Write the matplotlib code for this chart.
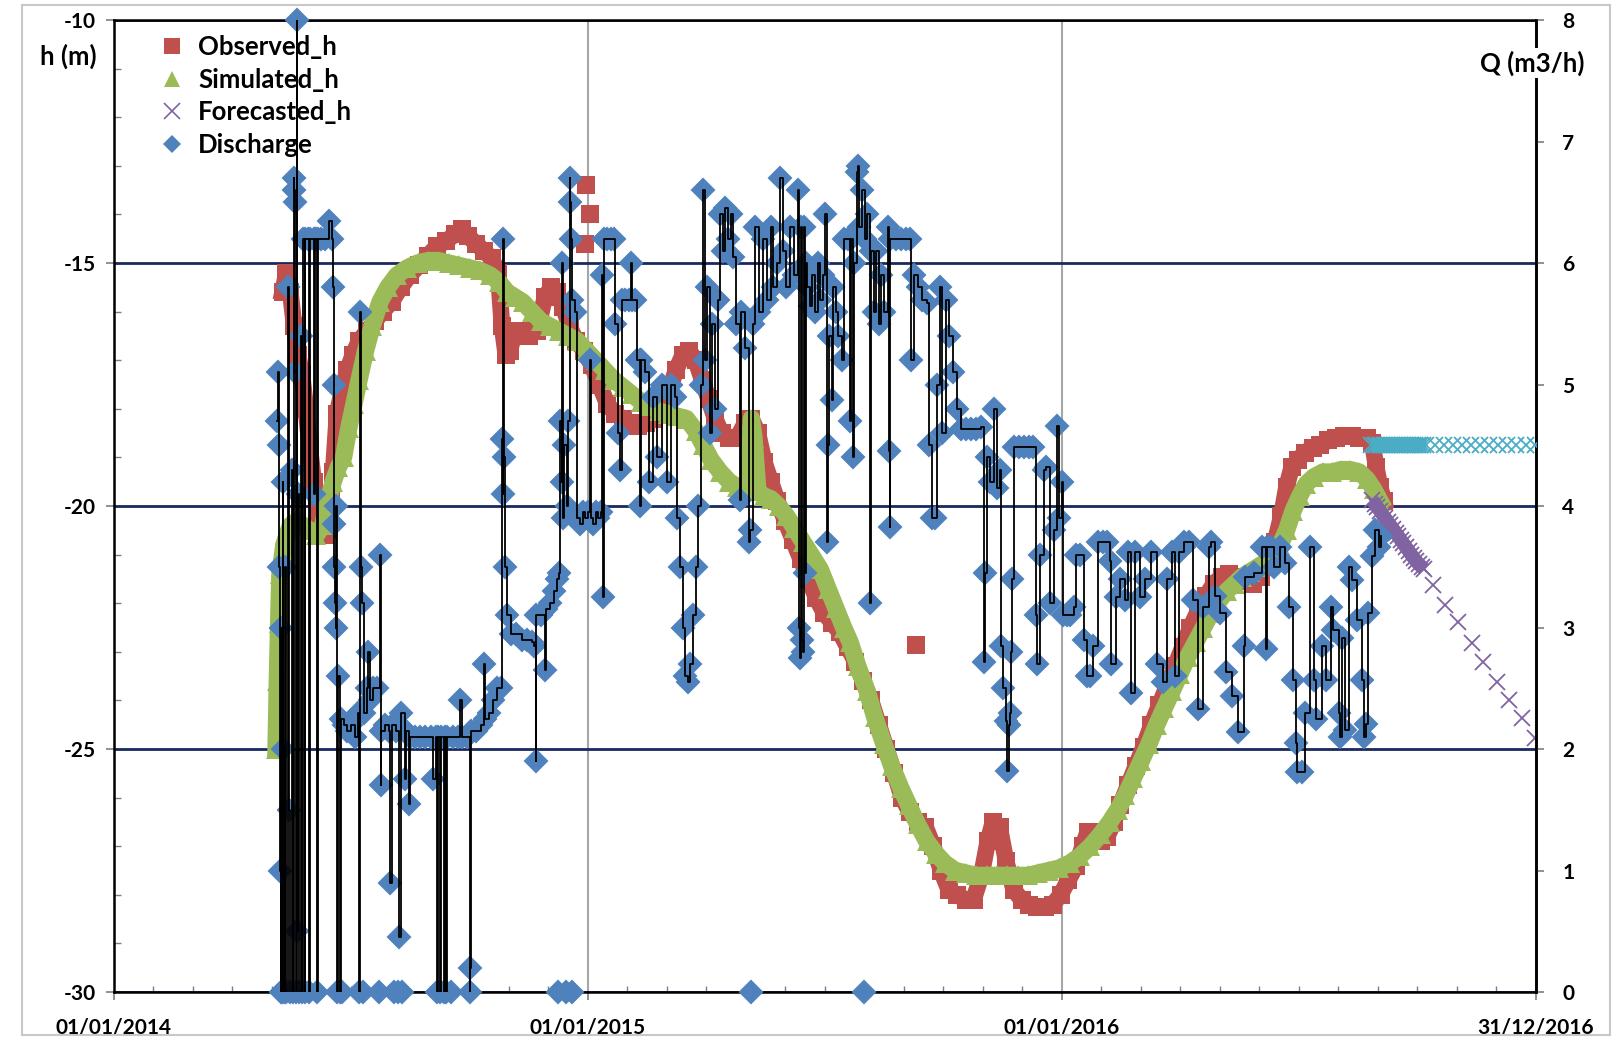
import numpy as np
import pandas as pd
import matplotlib
matplotlib.use("Agg")
import matplotlib.pyplot as plt
import matplotlib.dates as mdates
from matplotlib.lines import Line2D
from matplotlib.patches import Rectangle
from matplotlib.ticker import MultipleLocator, FixedLocator, NullLocator

plt.rcParams["font.family"] = ["Lato", "DejaVu Sans"]
plt.rcParams["font.weight"] = "bold"
plt.rcParams["axes.unicode_minus"] = False

nan = np.nan
START = pd.Timestamp("2014-01-01")
END = pd.Timestamp("2016-12-31")

# observed head (m), day offsets from 01/01/2014
obs_days = [130, 133, 136, 139, 142, 145, 148, 151, 154, 157,
            160, 163, 166, 169, 172, 176, 180, 184, 189, 195,
            201, 207, 214, 221, 228, 235, 242, 249, 256, 263,
            268, 273, 279, 285, 291, 296, 299, 302, 305, 309,
            314, 320, 326, 332, 337, 341, 346, 351, 356, 362,
            368, 374, 380, 386, 392, 398, 404, 410, 416, 422,
            428, 433, 438, 443, 448, 453, 458, 463, 468, 474,
            480, 486, 491, 496, 501, 506, 511, 517, 523, 529,
            535, 541, 547, 553, 559, 565, 571, 577, 583, 589,
            595, 601, 607, 613, 619, 625, 631, 637, 643, 649,
            656, 662, 668, 673, 677, 682, 687, 693, 699, 705,
            711, 717, 723, 729, 735, 741, 746, 750, 755, 760,
            765, 770, 775, 781, 787, 793, 799, 805, 811, 817,
            823, 829, 835, 841, 847, 853, 859, 865, 871, 877,
            883, 889, 894, 899, 903, 907, 912, 917, 923, 929,
            935, 941, 947, 953, 959, 965, 969, 972, 975, 978]
obs_h = [-15.6, -15.2, -15.6, -16.3, -16.9, -17.3, -18.0, -18.8, -19.5, -20.1,
         -20.5, -20.6, -20.5, -19.3, -18.1, -17.6, -17.2, -16.9, -16.6, -16.4,
         -16.2, -16.0, -15.8, -15.5, -15.25, -15.05, -14.85, -14.65, -14.55, -14.4,
         -14.3, -14.45, -14.6, -14.75, -14.9, -15.2, -16.3, -16.9, -16.8, -16.4,
         -16.4, -16.5, -16.4, -15.7, -15.5, -15.6, -15.9, -16.3, -16.6, -16.8,
         -17.1, -17.5, -17.9, -18.1, -18.2, -18.3, -18.35, -18.3, -18.2, -18.0,
         -17.6, -17.2, -16.9, -16.8, -17.0, -17.4, -17.8, -18.2, -18.5, -18.6,
         -18.6, -18.3, -18.2, -18.5, -19.1, -19.5, -19.9, -20.3, -20.7, -21.1,
         -21.5, -21.9, -22.2, -22.4, -22.6, -22.9, -23.2, -23.6, -24.0, -24.5,
         -25.0, -25.5, -26.0, -26.3, -26.5, -26.6, -27.0, -27.5, -27.9, -28.0,
         -28.1, -28.1, -27.6, -26.9, -26.5, -26.6, -27.3, -27.9, -28.1, -28.2,
         -28.25, -28.25, -28.2, -28.0, -27.7, -27.4, -27.0, -26.7, -26.7, -26.9,
         -26.8, -26.5, -26.15, -25.75, -25.35, -24.95, -24.5, -24.1, -23.7, -23.3,
         -22.9, -22.5, -22.15, -21.85, -21.6, -21.45, -21.4, -21.45, -21.55, -21.6,
         -21.45, -21.15, -20.75, -20.2, -19.6, -19.2, -19.05, -18.9, -18.8, -18.75,
         -18.65, -18.6, -18.55, -18.55, -18.6, -18.6, -18.7, -19.2, -19.6, -19.9]
# isolated observed squares
obs_extra_days = [363, 364, 367, 618]
obs_extra_h = [-14.6, -13.4, -14.0, -22.85]

# simulated head (m)
sim_days = [125, 126, 127, 128, 131, 136, 141, 146, 151, 156,
            161, 165, 169, 173, 177, 181, 185, 189, 194, 199,
            205, 211, 218, 226, 234, 242, 250, 258, 266, 274,
            282, 290, 297, 303, 309, 315, 322, 329, 336, 343,
            350, 357, 364, 371, 378, 385, 392, 399, 406, 413,
            420, 427, 434, 441, 448, 454, 460, 467, 474, 480,
            485, 489, 491, 493, 496, 501, 506, 512, 518, 524,
            531, 537, 544, 550, 556, 562, 567, 573, 580, 586,
            593, 599, 606, 612, 619, 626, 633, 640, 648, 656,
            664, 672, 680, 688, 696, 704, 712, 720, 728, 736,
            744, 752, 760, 767, 773, 779, 785, 791, 797, 803,
            809, 815, 821, 827, 833, 839, 845, 851, 857, 863,
            869, 875, 881, 887, 893, 898, 903, 908, 913, 918,
            924, 931, 938, 945, 952, 959, 965, 970, 975]
sim_h = [-25.0, -23.6, -22.4, -21.4, -20.8, -20.4, -20.3, -20.4, -20.5, -20.6,
         -20.4, -19.9, -19.5, -19.2, -19.0, -18.4, -17.9, -17.4, -16.8, -16.3,
         -15.8, -15.5, -15.25, -15.1, -15.0, -14.95, -14.95, -15.0, -15.05, -15.1,
         -15.15, -15.25, -15.4, -15.6, -15.7, -15.8, -16.0, -16.2, -16.3, -16.4,
         -16.5, -16.6, -16.8, -17.0, -17.2, -17.4, -17.55, -17.7, -17.85, -17.95,
         -18.05, -18.1, -18.15, -18.2, -18.45, -18.75, -19.05, -19.3, -19.5, -19.6,
         -19.65, -19.5, -18.2, -18.6, -19.7, -19.8, -19.85, -20.0, -20.2, -20.45,
         -20.75, -21.0, -21.3, -21.7, -22.1, -22.5, -22.8, -23.3, -23.8, -24.35,
         -24.9, -25.35, -25.8, -26.15, -26.55, -26.9, -27.15, -27.35, -27.5, -27.55,
         -27.6, -27.6, -27.6, -27.6, -27.6, -27.6, -27.55, -27.5, -27.45, -27.35,
         -27.2, -27.0, -26.75, -26.5, -26.25, -25.95, -25.6, -25.25, -24.9, -24.5,
         -24.15, -23.8, -23.45, -23.1, -22.8, -22.5, -22.2, -21.95, -21.75, -21.6,
         -21.45, -21.35, -21.25, -21.15, -21.0, -20.8, -20.5, -20.1, -19.8, -19.55,
         -19.4, -19.3, -19.3, -19.25, -19.25, -19.3, -19.45, -19.65, -19.9]

# forecasted head (m): daily run first, then sparse points
fc_days = [969, 971, 973, 975, 977, 979, 981, 983, 985, 987,
           989, 991, 993, 995, 997, 999, 1001, 1003, 1005, 1007,
           1009, 1016, 1025, 1035, 1046, 1054, 1065, 1074, 1084, 1094]
fc_h = [-19.88, -19.95, -20.03, -20.1, -20.18, -20.25, -20.33, -20.4, -20.47, -20.55,
        -20.62, -20.7, -20.77, -20.85, -20.92, -21.0, -21.07, -21.14, -21.2, -21.25,
        -21.3, -21.63, -22.04, -22.39, -22.82, -23.21, -23.62, -23.99, -24.36, -24.77]

# forecasted discharge (m3/h), not in legend
fq_days = [968, 970, 972, 974, 976, 978, 980, 982, 984, 986,
           988, 990, 992, 994, 996, 998, 1000, 1002, 1004, 1006,
           1008, 1010, 1017, 1024, 1031, 1038, 1045, 1052, 1059, 1066,
           1073, 1080, 1087, 1094]
fq_q = [4.5] * len(fq_days)

# discharge (m3/h); nan = missing reading (Excel draws the marker at 0)
dis_days = [126, 126.5, 127, 127.5, 128, 128.5, 129, 129.5, 130, 130.5,
            131, 132, 133, 134, 135, 136, 137, 138, 138.5, 139,
            139.5, 140, 140.5, 141, 141.5, 142, 143, 144, 145, 146,
            147, 147.5, 150, 150.5, 151, 154, 154.5, 155, 156, 156.5,
            157, 160, 163, 166, 168, 169, 169.3, 169.6, 170, 170.5,
            171, 171.5, 172, 173, 174, 175, 176, 177,
            180, 183, 186, 188, 189, 190, 190.5, 191, 192, 193,
            195, 196, 197, 200, 203, 204, 205, 205.5, 206, 209,
            212, 213, 214, 216, 217, 219, 220, 221, 222, 224,
            225, 227, 228, 232, 236, 240, 244, 246, 248, 249,
            250, 251, 252, 254, 255, 256, 257, 260, 261, 265,
            267, 268, 272, 274, 274.5, 275, 279, 283, 285, 286,
            289, 292, 295, 298, 299, 299.5, 300, 300.5, 301, 303,
            306, 310, 314, 318, 322, 324, 325, 325.5, 329, 332,
            333, 336, 339, 341, 342, 343, 344, 345, 345.5, 346,
            347, 348, 349, 350, 351, 351.5, 352, 352.5, 353, 355,
            357, 359, 361, 363, 365, 367, 367.5, 369, 371, 373,
            375, 376, 377, 377.5, 380, 383, 385, 386, 388, 390,
            391, 394, 397, 398, 399, 401, 403, 405, 405.5, 406,
            409, 412, 415, 418, 422, 426, 429, 432, 434, 436,
            438, 440, 442, 444, 446, 448, 450, 452, 454, 455,
            457, 459, 461, 463, 465, 467, 469, 471, 473, 475,
            477, 479, 482, 483, 486, 489, 490, 491, 492, 494,
            497, 500, 503, 506, 508, 511, 513, 515, 518, 521,
            524, 527, 528, 528.5, 529, 530, 531, 531.5, 532, 533,
            534, 536, 538, 540, 542, 544, 546, 548, 549, 550,
            551, 553, 554, 556, 558, 561, 562, 565, 567, 568,
            569, 570, 572, 573, 574, 576, 578, 578.5, 580, 582,
            583, 585, 587, 589, 591, 593, 596, 597, 597.5, 598,
            602, 606, 610, 613, 614, 616, 619, 622, 626, 628,
            630, 632, 634, 636, 638, 641, 643, 646, 649, 652,
            656, 660, 664, 668, 670, 671, 672, 675, 678, 680,
            682, 683, 685, 687, 688, 689, 690, 691, 692, 693,
            697, 701, 705, 708, 710, 711, 713, 716, 718, 721,
            724, 726, 728, 730, 731, 734, 736, 739, 741, 744,
            747, 749, 752, 754, 758, 762, 765, 767, 768, 772,
            775, 779, 781, 783, 786, 790, 794, 799, 803, 808,
            811, 815, 817, 820, 824, 828, 831, 835, 839, 843,
            845, 848, 852, 856, 861, 866, 870, 871, 878, 884,
            887, 888, 891, 893, 898, 902, 905, 908, 910, 911,
            915, 917, 921, 924, 926, 930, 933, 937, 939, 943,
            944, 946, 948, 951, 953, 957, 961, 963, 964, 966,
            969, 971, 974, 976]
dis_q = [4.7, 5.1, 4.5, 3.5, 1.0, 0.0, 3.0, 0.0, 4.2, 2.0,
         0.0, 3.5, 0.0, 5.8, 1.5, 0.0, 4.3, 0.0, 6.7, 6.6,
         6.5, 5.1, 0.0, 8.0, 0.5, 4.1, 0.0, 5.4, 0.0, 6.2,
         0.0, 6.2, 6.2, 0.0, 6.2, 6.2, 4.1, 6.2, 6.2, 0.0,
         6.2, 6.2, 6.2, 6.35, 6.2, 5.8, 5.0, 3.85, 3.5, 3.2,
         3.0, 4.0, 0.0, 2.6, 0.0, 2.25, nan, 2.2,
         2.15, 2.2, 2.1, 2.3, 0.0, 5.6, 3.5, 3.2, nan, 2.3,
         2.5, 2.8, 2.4, 2.5, 2.5, nan, 3.6, 1.7, 2.15, 2.2,
         2.15, 0.9, 2.2, nan, 2.15, nan, 0.45, 2.3, nan, 1.75,
         2.15, 1.55, 2.1, 2.1, 2.1, 2.1, 2.1, 1.75, 2.1, 0.0,
         2.1, 0.0, 2.1, 0.0, 2.1, 0.0, 2.1, nan, 2.1, 2.1,
         2.4, 2.1, 2.1, 0.0, 0.2, 2.15, 2.15, 2.2, 2.7, 2.25,
         2.3, 2.4, 2.5, 2.5, 4.55, 4.1, 6.2, 4.4, 3.5, 3.1,
         2.95, 2.95, 2.9, 2.9, 2.88, 2.85, 1.9, 3.1, 3.1, 2.65,
         3.15, 3.2, 3.3, 3.4, nan, 3.45, 4.7, 4.2, 6.0, 3.9,
         4.5, nan, 4.0, 4.7, 6.7, 6.5, 6.2, nan, 5.7, 5.6,
         3.9, 3.85, 3.95, 3.9, 3.95, 5.2, 3.9, 3.85, 3.95, 3.9,
         3.95, 5.9, 3.25, 6.2, 6.2, 6.2, 6.2, 5.5, 4.6, 4.3,
         5.7, 5.7, 5.7, 6.0, 5.7, 5.7, 5.2, 5.2, 4.0, 5.2,
         5.1, 4.2, 4.9, 4.4, 5.0, 4.2, 5.0, 4.9, 3.9, 3.5,
         3.0, 2.6, 2.55, 2.7, 3.1, 3.5, 4.0, 5.0, 6.6, 5.2,
         5.8, 4.6, 5.5, 4.8, 5.7, 6.4, 6.1, 6.45, 6.2, 6.4,
         6.05, 5.5, 4.05, 5.6, 5.3, 3.7, 3.8, nan, 5.5, 6.3,
         5.6, 6.2, 5.7, 6.3, 5.8, 6.0, 6.7, 6.1, 5.8, 6.3,
         5.9, 6.6, 3.0, 2.75, 6.3, 2.9, 2.8, 6.3, 3.45, 6.0,
         5.8, 5.65, 5.9, 5.6, 6.0, 5.7, 5.9, 6.4, 3.7, 4.5,
         5.4, 4.87, 5.8, 5.6, 5.4, 5.2, 6.2, 6.2, 4.7, 6.2,
         4.4, 6.0, 6.75, 6.8, 6.3, 6.6, nan, 6.2, 6.4, 3.2,
         6.1, 5.6, 6.1, 5.5, 5.9, 5.6, 6.3, 4.45, 3.83, 6.2,
         6.2, 6.2, 6.2, 6.2, 5.2, 5.9, 5.8, 5.7, 5.67, 4.5,
         3.9, 3.9, 5.0, 5.8, 4.6, 5.7, 5.4, 5.1, 4.8, 4.63,
         4.63, 4.63, 4.63, 4.65, 2.72, 3.45, 4.4, 4.2, 4.8, 4.15,
         4.3, 2.85, 2.5, 2.23, 1.82, 2.2, 2.3, 2.8, 3.4, 4.49,
         4.49, 4.49, 4.49, 4.49, 3.1, 2.7, 3.6, 4.3, 4.32, 3.2,
         3.8, 4.66, 3.9, 4.2, 3.1, 3.1, 3.1, 3.17, 3.6, 3.6,
         2.9, 2.6, 2.6, 2.85, 3.7, 3.7, 3.7, 3.55, 2.7, 3.25,
         3.4, 3.23, 3.62, 2.46, 3.62, 3.25, 3.4, 3.62, 2.7, 2.55,
         3.4, 3.62, 2.6, 3.62, 3.7, 3.7, 3.23, 2.33, 3.17, 3.66,
         3.7, 3.26, 3.12, 2.63, 2.44, 2.14, 2.85, 3.42, 3.45, 3.66,
         2.82, 3.66, 3.66, 3.5, 3.66, 3.53, 3.17, 2.57, 2.05, 1.81,
         1.81, 2.3, 3.66, 2.57, 2.25, 2.85, 2.57, 3.17, 2.98, 2.3,
         2.1, 2.91, 2.16, 3.5, 3.39, 3.06, 2.57, 2.1, 2.21, 3.12,
         3.59, 3.8, 3.66, 3.75]

RED = "#C0504D"
GREEN = "#9BBB59"
PURPLE = "#8064A2"
BLUE = "#4F81BD"
CYAN = "#4BACC6"
NAVY = "#18295E"
GREY = "#A6A6A6"


def to_dates(days):
    return START + pd.to_timedelta(np.asarray(days, dtype=float), unit="D")


fig = plt.figure(figsize=(16.19, 10.45), dpi=100)
ax = fig.add_axes([0.0702, 0.0507, 0.8785, 0.9301])
ax2 = ax.twinx()

# heads on the left axis
ax.plot(to_dates(obs_days), obs_h, color=RED, lw=12, marker="s", ms=13, mew=0, zorder=2)
ax.plot(to_dates(obs_extra_days), obs_extra_h, ls="none", color=RED, marker="s", ms=13, mew=0, zorder=2)
ax.plot(to_dates(sim_days), sim_h, color=GREEN, lw=12.5, marker="^", ms=14, mew=0, zorder=2.1)
fc_d = np.array(fc_days)
fc_v = np.array(fc_h)
dense = fc_d <= 1009
ax.plot(to_dates(fc_d[dense]), fc_v[dense], color=PURPLE, lw=10, solid_capstyle="butt", zorder=2.2)
ax.plot(to_dates(fc_d), fc_v, ls="none", color=PURPLE, marker="x", ms=12, mew=1.3, zorder=2.2)

# discharge on the right axis
q = np.array(dis_q, dtype=float)
dd = to_dates(dis_days)
ax2.plot(dd, np.nan_to_num(q, nan=0.0), ls="none", color=BLUE, marker="D", ms=11.5,
         mec=BLUE, mew=1.5, clip_on=False, zorder=3)
ok = ~np.isnan(q)
ax2.plot(dd[ok], q[ok], color="black", lw=1.3, drawstyle="steps-post", zorder=4)
fq_d = np.array(fq_days)
fq_v = np.array(fq_q)
solid = fq_d <= 1010
ax2.plot(to_dates(fq_d[solid]), fq_v[solid], color=CYAN, lw=11, solid_capstyle="butt", zorder=5)
ax2.plot(to_dates(fq_d), fq_v, ls="none", color=CYAN, marker="x", ms=12, mew=1.3, zorder=5)

# axes
ax.set_xlim(START, END)
ax.set_ylim(-30, -10)
ax2.set_ylim(0, 8)

majors = [START, pd.Timestamp("2015-01-01"), pd.Timestamp("2016-01-01"), END]
ax.set_xticks(majors)
ax.set_xticklabels([d.strftime("%d/%m/%Y") for d in majors])
ax.xaxis.set_minor_locator(FixedLocator(mdates.date2num(START) + np.arange(37) * (1095 / 36)))
ax.set_yticks([-30, -25, -20, -15, -10])
ax.yaxis.set_minor_locator(MultipleLocator(1))
ax2.set_yticks(range(9))
ax2.yaxis.set_minor_locator(NullLocator())

tick_col = "#7F7F7F"
ax.tick_params(axis="y", which="major", direction="out", length=6, width=1.2, color=tick_col,
               labelsize=15, pad=7)
ax.tick_params(axis="y", which="minor", direction="in", length=5, width=1.0, color=tick_col)
ax.tick_params(axis="x", which="major", direction="out", length=6, width=1.2, color=tick_col,
               labelsize=15, pad=12)
ax.tick_params(axis="x", which="minor", direction="in", length=4, width=1.0, color=tick_col)
ax2.tick_params(axis="y", which="major", direction="out", length=6, width=1.2, color=tick_col,
                labelsize=15, pad=13)

ax.grid(axis="y", which="major", color=NAVY, lw=2.0)
ax.grid(axis="x", which="major", color=GREY, lw=1.5)
ax.set_axisbelow(True)

for s in ax.spines.values():
    s.set_linewidth(1.8)
    s.set_color("black")
for side in ["top", "bottom", "left"]:
    ax2.spines[side].set_visible(False)
ax2.spines["right"].set_linewidth(1.8)

handles = [
    Line2D([], [], ls="none", marker="s", ms=12, color=RED, mew=0),
    Line2D([], [], ls="none", marker="^", ms=12, color=GREEN, mew=0),
    Line2D([], [], ls="none", marker="x", ms=11, color=PURPLE, mew=1.2),
    Line2D([], [], ls="none", marker="D", ms=9, color=BLUE, mew=0),
]
ax2.legend(handles, ["Observed_h", "Simulated_h", "Forecasted_h", "Discharge"],
           loc="upper left", bbox_to_anchor=(0.026, 0.995), frameon=False, fontsize=18.5,
           handlelength=0.9, handletextpad=0.55, labelspacing=0.33, borderaxespad=0)

fig.text(68 / 1619, 1 - 56 / 1045, "h (m)", ha="center", va="center", fontsize=18.5, weight="bold")
fig.text(1532 / 1619, 1 - 63 / 1045, "Q (m3/h)", ha="center", va="center", fontsize=18.5,
         weight="bold", bbox=dict(facecolor="white", edgecolor="none", pad=2))

fig.add_artist(Rectangle((22 / 1619, 1 - 1035 / 1045), (1610 - 22) / 1619, (1035 - 5) / 1045,
                         transform=fig.transFigure, fill=False, edgecolor="#C8C8C8", lw=1.5))

fig.savefig("out.png", dpi=100)
